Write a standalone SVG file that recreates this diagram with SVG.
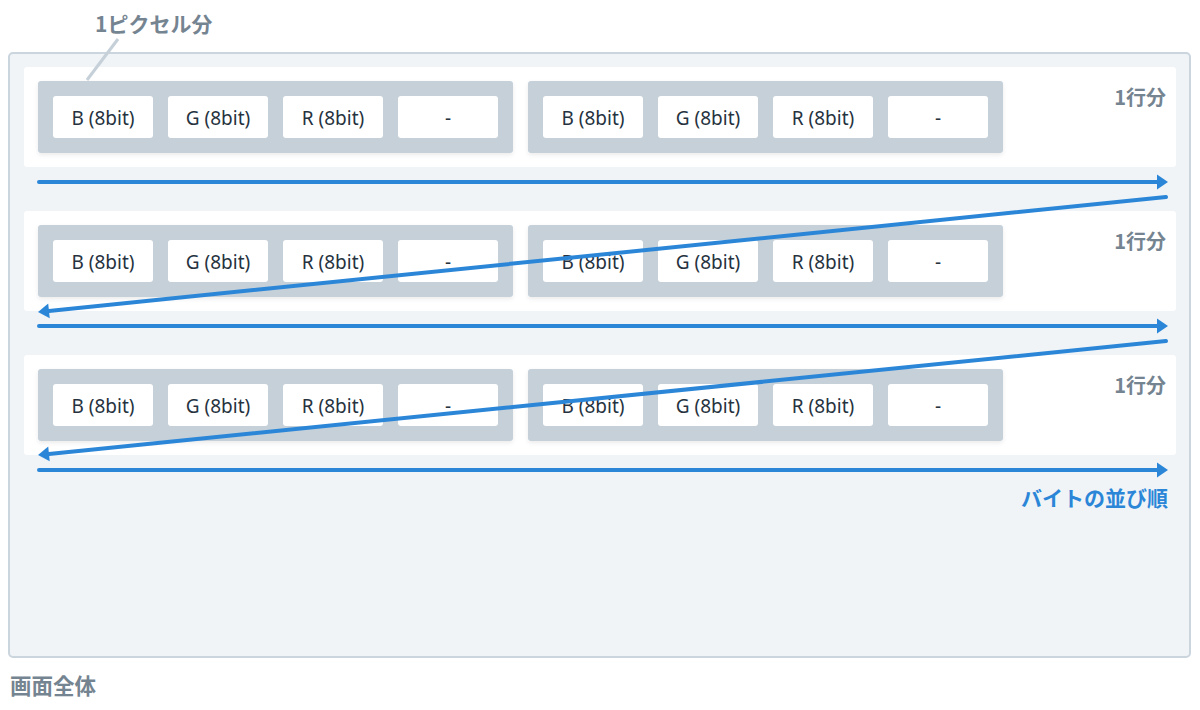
<svg xmlns="http://www.w3.org/2000/svg" width="1200" height="710" viewBox="0 0 1200 710">
<defs>
<style>
.frame{fill:#f0f4f7;stroke:#cbd5de;stroke-width:2}
.row{fill:#ffffff}
.grp{fill:#c5d0d9}
.cell{fill:#ffffff}
.ct{font-family:"Noto Sans","Liberation Sans",sans-serif;font-size:19px;fill:#26333f;text-anchor:middle}
.lbl{font-family:"Noto Sans CJK JP","Noto Sans",sans-serif;font-size:20px;font-weight:bold;fill:#758491}
.blue{font-family:"Noto Sans CJK JP","Noto Sans",sans-serif;font-size:21px;font-weight:bold;fill:#2b86d8}
.arr{stroke:#2b86d8;stroke-width:4;stroke-linecap:round;fill:none}
</style>
<filter id="sh" x="-5%" y="-10%" width="110%" height="130%">
<feDropShadow dx="0" dy="2" stdDeviation="2" flood-color="#000" flood-opacity="0.08"/>
</filter>
<marker id="ah" markerWidth="3" markerHeight="4" refX="1.25" refY="1.875" orient="auto" markerUnits="strokeWidth" overflow="visible">
<path d="M0,0 L2.75,1.875 L0,3.75 Z" fill="#2b86d8"/>
</marker>
<g id="pix">
<rect class="grp" x="0" y="0" width="475" height="72" rx="3" filter="url(#sh)"/>
<rect class="cell" x="15" y="15" width="100" height="42" rx="3"/>
<rect class="cell" x="130" y="15" width="100" height="42" rx="3"/>
<rect class="cell" x="245" y="15" width="100" height="42" rx="3"/>
<rect class="cell" x="360" y="15" width="100" height="42" rx="3"/>
<text class="ct" x="65" y="43.5">B (8bit)</text>
<text class="ct" x="180" y="43.5">G (8bit)</text>
<text class="ct" x="295" y="43.5">R (8bit)</text>
<text class="ct" x="410" y="43.5">-</text>
</g>
</defs>

<g id="screen">
<rect class="frame" x="9" y="53" width="1181" height="604" rx="4"/>
<text class="lbl" x="10" y="694" style="font-size:21.5px">画面全体</text>
</g>

<g id="row1">
<rect class="row" x="24" y="67" width="1152" height="100" rx="3"/>
<use href="#pix" x="38" y="81"/>
<use href="#pix" x="528" y="81"/>
<text class="lbl" x="1166" y="105" text-anchor="end">1行分</text>
</g>
<g id="row2">
<rect class="row" x="24" y="211" width="1152" height="100" rx="3"/>
<use href="#pix" x="38" y="225"/>
<use href="#pix" x="528" y="225"/>
<text class="lbl" x="1166" y="249" text-anchor="end">1行分</text>
</g>
<g id="row3">
<rect class="row" x="24" y="355" width="1152" height="100" rx="3"/>
<use href="#pix" x="38" y="369"/>
<use href="#pix" x="528" y="369"/>
<text class="lbl" x="1166" y="393" text-anchor="end">1行分</text>
</g>

<g id="pixel-label">
<line x1="118" y1="39" x2="87" y2="80" stroke="#c5d0d9" stroke-width="3"/>
<text class="lbl" x="95" y="32" style="font-size:21px">1ピクセル分</text>
</g>

<g id="connectors">
<line class="arr" x1="39" y1="182" x2="1162" y2="182" marker-end="url(#ah)"/>
<line class="arr" x1="1166" y1="197" x2="44" y2="311.4" marker-end="url(#ah)"/>
<line class="arr" x1="39" y1="326" x2="1162" y2="326" marker-end="url(#ah)"/>
<line class="arr" x1="1166" y1="341" x2="44" y2="454.4" marker-end="url(#ah)"/>
<line class="arr" x1="39" y1="470" x2="1162" y2="470" marker-end="url(#ah)"/>
<text class="blue" x="1168" y="506" text-anchor="end">バイトの並び順</text>
</g>
</svg>
